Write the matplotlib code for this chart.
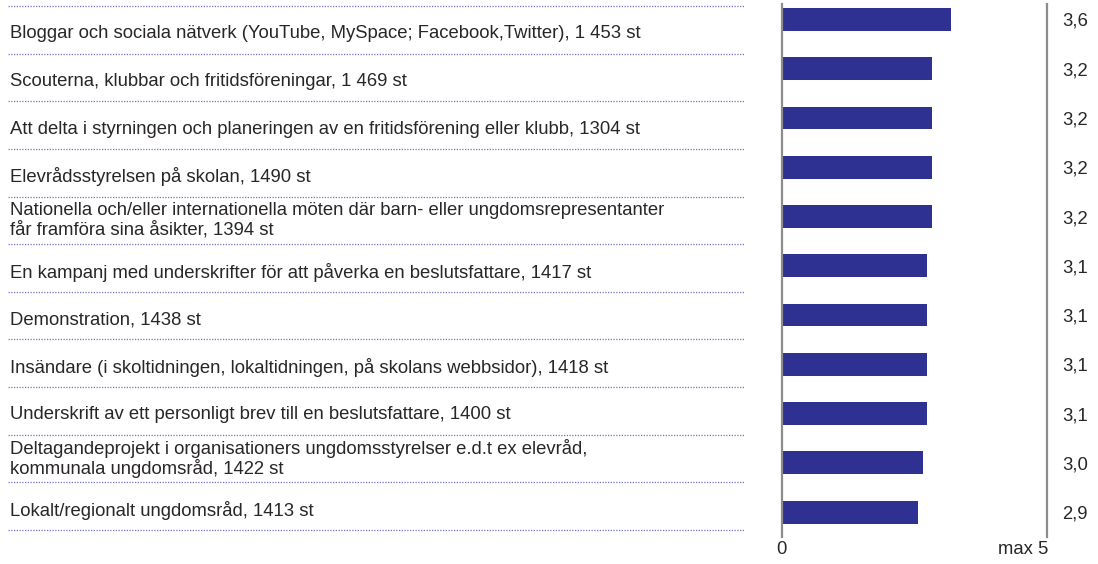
import matplotlib
matplotlib.use("Agg")
import matplotlib.pyplot as plt
import matplotlib.transforms as mtransforms

labels = [
    "Bloggar och sociala nätverk (YouTube, MySpace; Facebook,Twitter), 1 453 st",
    "Scouterna, klubbar och fritidsföreningar, 1 469 st",
    "Att delta i styrningen och planeringen av en fritidsförening eller klubb, 1304 st",
    "Elevrådsstyrelsen på skolan, 1490 st",
    "Nationella och/eller internationella möten där barn- eller ungdomsrepresentanter\nfår framföra sina åsikter, 1394 st",
    "En kampanj med underskrifter för att påverka en beslutsfattare, 1417 st",
    "Demonstration, 1438 st",
    "Insändare (i skoltidningen, lokaltidningen, på skolans webbsidor), 1418 st",
    "Underskrift av ett personligt brev till en beslutsfattare, 1400 st",
    "Deltagandeprojekt i organisationers ungdomsstyrelser e.d.t ex elevråd,\nkommunala ungdomsråd, 1422 st",
    "Lokalt/regionalt ungdomsråd, 1413 st",
]
values = [3.6, 3.2, 3.2, 3.2, 3.2, 3.1, 3.1, 3.1, 3.1, 3.0, 2.9]
value_labels = ["3,6", "3,2", "3,2", "3,2", "3,2", "3,1", "3,1", "3,1", "3,1", "3,0", "2,9"]
axis_labels = ["0", "max 5"]

plt.rcParams['font.family'] = ['Liberation Sans', 'DejaVu Sans']
W, H = 1098, 564
fig = plt.figure(figsize=(W / 100, H / 100), dpi=100)

text_color = "#2a2627"
bar_color = "#2e3192"
dot_color = "#7373c4"
line_color = "#8c8c8c"

def fx(px):
    return px / W

def fy(py):
    return 1 - py / H

n = len(labels)

# ---- label panel ----
lx0, lx1, ly0, ly1 = 8, 745, 6, 530
axl = fig.add_axes([fx(lx0), fy(ly1), fx(lx1 - lx0), (ly1 - ly0) / H])
axl.set_xlim(0, 1)
axl.set_ylim(n, 0)
axl.axis("off")
for k in range(n + 1):
    axl.axhline(k, color=dot_color, lw=0.9, ls=(0, (1, 1.2)), clip_on=False)

fs = 11.5
texts = []
for i, lab in enumerate(labels):
    shift = 0.0 if "\n" in lab else 0.085
    t = axl.text(2 / (lx1 - lx0), i + 0.5 + shift, lab, ha="left", va="center",
                 fontsize=fs, color=text_color, linespacing=1.12)
    texts.append(t)

# fit font size to the widths seen in the reference (average ratio)
fig.canvas.draw()
r = fig.canvas.get_renderer()
targets = {0: 648, 2: 636, 1: 398, 10: 303}
ratios = [targets[k] / texts[k].get_window_extent(r).width for k in targets]
scale = sum(ratios) / len(ratios)
fsz = fs * scale
for t in texts:
    t.set_fontsize(fsz)

# ---- bar panel ----
bx0, bx1, by0, by1 = 781.5, 1047, 4, 537
axb = fig.add_axes([fx(bx0), fy(by1), fx(bx1 - bx0), (by1 - by0) / H])
pitch = 49.3
xmax = (bx1 - bx0) / 47.0
axb.set_xlim(0, xmax)
axb.set_ylim(n - 1 + (by1 - 512) / pitch, -(19.5 - by0) / pitch)
axb.barh(range(n), values, height=23 / pitch, color=bar_color)
for s in ["top", "bottom"]:
    axb.spines[s].set_visible(False)
for s in ["left", "right"]:
    axb.spines[s].set_color(line_color)
    axb.spines[s].set_linewidth(1.6)
axb.set_xticks([])
axb.set_yticks([])
axb.patch.set_alpha(0)

trans = mtransforms.blended_transform_factory(axb.transAxes, axb.transData)
for i, vl in enumerate(value_labels):
    axb.text((1062 - bx0) / (bx1 - bx0), i, vl, transform=trans, ha="left",
             va="center_baseline", fontsize=fsz, color=text_color)

fig.text(fx(bx0), fy(550), axis_labels[0], ha="center", va="center",
         fontsize=fsz, color=text_color)
fig.text(fx(1048), fy(550), axis_labels[1], ha="right", va="center",
         fontsize=fsz, color=text_color)

fig.savefig("out.png", dpi=100, facecolor="white")
